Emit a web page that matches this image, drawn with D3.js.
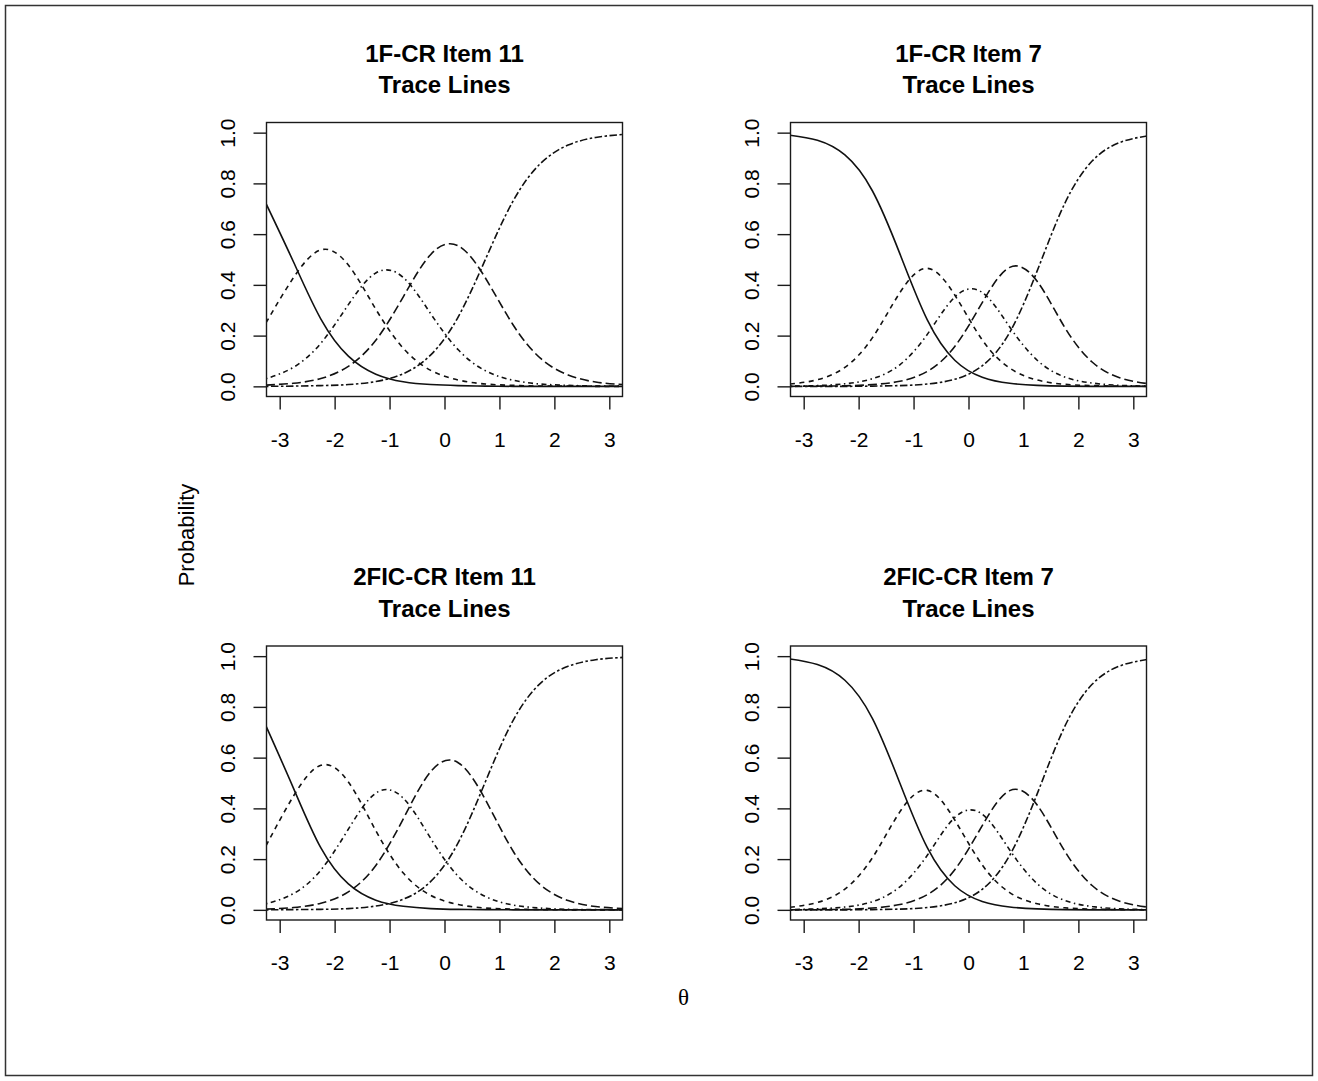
<!DOCTYPE html>
<html>
<head>
<meta charset="utf-8">
<script src="https://cdn.jsdelivr.net/npm/d3@7"></script>
<style>
  body { margin: 0; background: #fff; }
  svg text { font-family: "Liberation Sans", Arial, Helvetica, sans-serif; }
</style>
</head>
<body>
<svg width="1318" height="1081"></svg>
<script>
const svg = d3.select('svg');

const thetaGrid = [-3.25, -2.75, -2.25, -1.75, -1.25, -0.75, -0.25, 0.25, 0.75, 1.25, 1.75, 2.25, 2.75, 3.25];
const xTicks = [-3, -2, -1, 0, 1, 2, 3];
const yTicks = [0, 0.2, 0.4, 0.6, 0.8, 1.0];
const panelTitles = ['1F-CR Item 11', '1F-CR Item 7', '2FIC-CR Item 11', '2FIC-CR Item 7'];

// probability of each response category (0..4), one array per category
const oneFItem11 = [
  [0.721, 0.491, 0.265, 0.119, 0.048, 0.018, 0.007, 0.003, 0.001, 0.000, 0.000, 0.000, 0.000, 0.000],
  [0.250, 0.428, 0.538, 0.478, 0.304, 0.150, 0.063, 0.025, 0.009, 0.004, 0.001, 0.001, 0.000, 0.000],
  [0.030, 0.075, 0.170, 0.322, 0.447, 0.429, 0.286, 0.144, 0.061, 0.024, 0.009, 0.004, 0.001, 0.001],
  [0.005, 0.012, 0.031, 0.079, 0.182, 0.353, 0.520, 0.554, 0.425, 0.242, 0.110, 0.045, 0.017, 0.007],
  [0.000, 0.001, 0.003, 0.007, 0.019, 0.050, 0.124, 0.274, 0.503, 0.731, 0.879, 0.951, 0.981, 0.993]
];
const oneFItem7 = [
  [0.990, 0.970, 0.912, 0.771, 0.523, 0.262, 0.103, 0.036, 0.012, 0.004, 0.001, 0.000, 0.000, 0.000],
  [0.009, 0.026, 0.075, 0.191, 0.369, 0.465, 0.360, 0.183, 0.072, 0.025, 0.008, 0.003, 0.001, 0.000],
  [0.001, 0.003, 0.010, 0.030, 0.085, 0.205, 0.352, 0.370, 0.234, 0.103, 0.037, 0.013, 0.004, 0.001],
  [0.000, 0.001, 0.002, 0.007, 0.020, 0.059, 0.157, 0.330, 0.469, 0.414, 0.233, 0.096, 0.034, 0.011],
  [0.000, 0.000, 0.000, 0.001, 0.003, 0.009, 0.028, 0.081, 0.213, 0.455, 0.720, 0.888, 0.961, 0.987]
];
const twoFicItem11 = [
  [0.725, 0.480, 0.244, 0.102, 0.038, 0.014, 0.005, 0.002, 0.001, 0.000, 0.000, 0.000, 0.000, 0.000],
  [0.252, 0.448, 0.570, 0.504, 0.312, 0.145, 0.057, 0.021, 0.007, 0.003, 0.001, 0.000, 0.000, 0.000],
  [0.024, 0.064, 0.157, 0.318, 0.460, 0.440, 0.281, 0.132, 0.052, 0.019, 0.007, 0.002, 0.001, 0.000],
  [0.003, 0.009, 0.026, 0.071, 0.175, 0.359, 0.545, 0.580, 0.432, 0.231, 0.098, 0.037, 0.013, 0.005],
  [0.000, 0.001, 0.002, 0.005, 0.015, 0.042, 0.112, 0.265, 0.508, 0.747, 0.894, 0.960, 0.986, 0.995]
];
const twoFicItem7 = [
  [0.989, 0.967, 0.905, 0.755, 0.500, 0.245, 0.095, 0.033, 0.011, 0.004, 0.001, 0.000, 0.000, 0.000],
  [0.010, 0.029, 0.082, 0.205, 0.386, 0.471, 0.354, 0.177, 0.068, 0.024, 0.008, 0.003, 0.001, 0.000],
  [0.001, 0.004, 0.011, 0.032, 0.091, 0.215, 0.364, 0.377, 0.236, 0.103, 0.037, 0.013, 0.004, 0.001],
  [0.000, 0.001, 0.002, 0.007, 0.021, 0.060, 0.158, 0.332, 0.470, 0.413, 0.232, 0.096, 0.034, 0.011],
  [0.000, 0.000, 0.000, 0.001, 0.003, 0.009, 0.028, 0.081, 0.215, 0.457, 0.722, 0.889, 0.961, 0.987]
];

// R style line types: solid, dashed, dotdash, longdash, twodash
const dashes = [null, '5,4.5', '1.5,3.5,5,3.5', '9,4', '2.5,2.5,7.5,2.5'];

const panelW = 356;
const panelH = 274;
const panels = [
  { title: panelTitles[0], curves: oneFItem11, left: 266.5, top: 122.5 },
  { title: panelTitles[1], curves: oneFItem7, left: 790.5, top: 122.5 },
  { title: panelTitles[2], curves: twoFicItem11, left: 266.5, top: 646 },
  { title: panelTitles[3], curves: twoFicItem7, left: 790.5, top: 646 }
];

// outer frame
svg.append('rect')
  .attr('x', 5.5).attr('y', 5.5)
  .attr('width', 1307).attr('height', 1070)
  .attr('fill', 'none')
  .attr('stroke', '#333')
  .attr('stroke-width', 1.5);

const xScale = d3.scaleLinear().domain([-3.24, 3.24]).range([0, panelW]);
const yScale = d3.scaleLinear().domain([-0.04, 1.04]).range([panelH, 0]);

const line = d3.line()
  .x(d => xScale(d[0]))
  .y(d => yScale(d[1]))
  .curve(d3.curveNatural);

panels.forEach((p, i) => {
  const g = svg.append('g').attr('transform', `translate(${p.left}, ${p.top})`);

  g.append('clipPath').attr('id', 'clip' + i)
    .append('rect').attr('width', panelW).attr('height', panelH);

  // x axis
  const xAxisG = g.append('g')
    .attr('transform', `translate(0, ${panelH})`)
    .call(d3.axisBottom(xScale).tickValues(xTicks).tickSize(13).tickSizeOuter(0))
    .attr('font-size', 21)
    .attr('font-family', '"Liberation Sans", Arial, sans-serif')
    .attr('color', '#1a1a1a');
  xAxisG.select('.domain').remove();
  xAxisG.selectAll('line').attr('stroke-width', 1.4);
  xAxisG.selectAll('text')
    .attr('fill', '#000')
    .attr('y', 50).attr('dy', 0)
    .text(d => d < 0 ? '-' + Math.abs(d) : d);

  // y axis, labels parallel to the axis as in R
  const yAxisG = g.append('g')
    .call(d3.axisLeft(yScale).tickValues(yTicks).tickSize(13).tickFormat(d3.format('.1f')))
    .attr('font-size', 21)
    .attr('font-family', '"Liberation Sans", Arial, sans-serif')
    .attr('color', '#1a1a1a');
  yAxisG.select('.domain').remove();
  yAxisG.selectAll('line').attr('stroke-width', 1.4);
  yAxisG.selectAll('text')
    .attr('fill', '#000')
    .attr('x', 0).attr('dy', 0)
    .attr('text-anchor', 'middle')
    .attr('transform', 'translate(-31.5, 0) rotate(-90)');

  // trace lines
  g.append('g').attr('clip-path', `url(#clip${i})`)
    .selectAll('path')
    .data(p.curves)
    .enter().append('path')
      .attr('d', vals => line(thetaGrid.map((t, j) => [t, vals[j]])))
      .attr('fill', 'none')
      .attr('stroke', '#111')
      .attr('stroke-width', 1.6)
      .attr('stroke-dasharray', (d, k) => dashes[k]);

  // box
  g.append('rect')
    .attr('width', panelW).attr('height', panelH)
    .attr('fill', 'none')
    .attr('stroke', '#1a1a1a')
    .attr('stroke-width', 1.4);

  // two line title
  const title = g.append('text')
    .attr('x', panelW / 2)
    .attr('text-anchor', 'middle')
    .attr('font-size', 24)
    .attr('font-weight', 'bold');
  title.append('tspan').attr('x', panelW / 2).attr('y', -61).text(p.title);
  title.append('tspan').attr('x', panelW / 2).attr('y', -29.5).text('Trace Lines');
});

// shared axis titles
svg.append('text')
  .attr('transform', 'translate(194, 535) rotate(-90)')
  .attr('text-anchor', 'middle')
  .attr('font-size', 22)
  .text('Probability');

svg.append('text')
  .attr('x', 683.5).attr('y', 1005)
  .attr('text-anchor', 'middle')
  .attr('font-size', 23)
  .style('font-family', '"Liberation Serif", "DejaVu Serif", serif')
  .text('θ');
</script>
</body>
</html>
